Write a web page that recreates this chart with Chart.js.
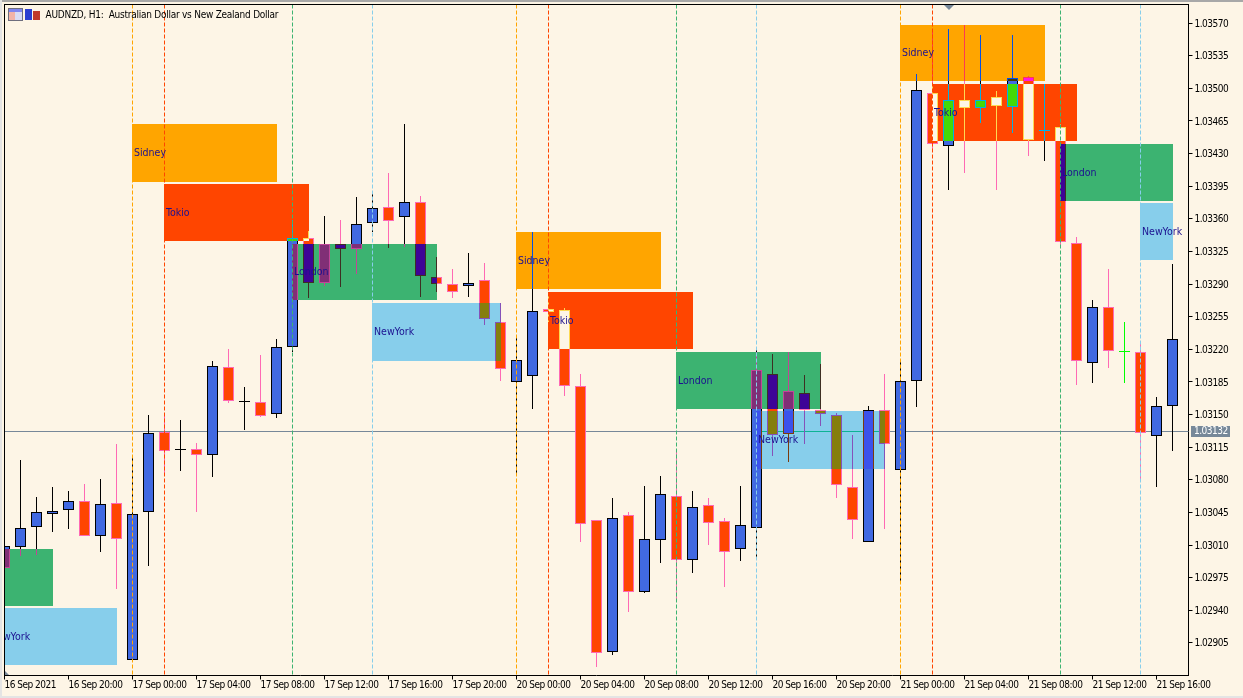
<!DOCTYPE html>
<html>
<head>
<meta charset="UTF-8">
<title>AUDNZD, H1</title>
<script src="https://cdn.jsdelivr.net/npm/chart.js"></script>
<style>
    html, body { margin: 0; padding: 0; background: #FDF5E6; overflow: hidden; }
    canvas { display: block; }
</style>
</head>
<body>
<canvas id="chart" width="1243" height="698"></canvas>
<script>
// candles, one entry per H1 bar
const opens = [
    1.02985,1.03008,1.03029,1.03043,1.03048,1.03057,1.03020,1.03055,1.02887,1.03045,
    1.03131,1.03112,1.03113,1.03107,1.03201,1.03164,1.03164,1.03151,1.03223,1.03339,
    1.03291,1.03333,1.03328,1.03356,1.03373,1.03362,1.03378,1.03298,1.03290,1.03288,
    1.03294,1.03249,1.03185,1.03191,1.03263,1.03262,1.03181,1.03037,1.02895,1.03042,
    1.02960,1.03015,1.03063,1.02994,1.03053,1.03036,1.03006,1.03028,1.03193,1.03129,
    1.03173,1.03155,1.03149,1.03072,1.03013,1.03155,1.03091,1.03186,1.03495,1.03438,
    1.03487,1.03479,1.03491,1.03480,1.03512,1.03454,1.03459,1.03334,1.03205,1.03265,
    1.03217,1.03217,1.03127,1.03159];
const highs = [
    1.03010,1.03101,1.03062,1.03072,1.03068,1.03076,1.03081,1.03118,1.03103,1.03150,
    1.03149,1.03144,1.03119,1.03207,1.03220,1.03180,1.03214,1.03231,1.03359,1.03347,
    1.03363,1.03359,1.03383,1.03389,1.03409,1.03462,1.03384,1.03319,1.03306,1.03323,
    1.03313,1.03270,1.03233,1.03346,1.03278,1.03264,1.03194,1.03037,1.03060,1.03045,
    1.03073,1.03084,1.03110,1.03068,1.03060,1.03039,1.03073,1.03220,1.03215,1.03217,
    1.03192,1.03204,1.03152,1.03128,1.03159,1.03193,1.03206,1.03515,1.03564,1.03564,
    1.03568,1.03557,1.03497,1.03557,1.03513,1.03505,1.03462,1.03341,1.03273,1.03306,
    1.03249,1.03226,1.03169,1.03312];
const lows = [
    1.02984,1.02998,1.02999,1.03024,1.03027,1.03020,1.03002,1.02963,1.02887,1.02987,
    1.03087,1.03089,1.03045,1.03083,1.03162,1.03133,1.03147,1.03146,1.03217,1.03275,
    1.03288,1.03287,1.03301,1.03346,1.03329,1.03330,1.03276,1.03282,1.03275,1.03276,
    1.03246,1.03186,1.03084,1.03156,1.03249,1.03170,1.03013,1.02879,1.02892,1.02938,
    1.02958,1.02991,1.02949,1.02980,1.03010,1.02965,1.02993,1.02997,1.03106,1.03099,
    1.03118,1.03138,1.03060,1.03017,1.03013,1.03027,1.02969,1.03158,1.03432,1.03391,
    1.03409,1.03463,1.03391,1.03452,1.03427,1.03422,1.03329,1.03182,1.03184,1.03200,
    1.03184,1.03081,1.03072,1.03111];
const closes = [
    1.03009,1.03028,1.03045,1.03047,1.03057,1.03020,1.03054,1.03017,1.03043,1.03130,
    1.03111,1.03113,1.03107,1.03202,1.03165,1.03165,1.03148,1.03223,1.03339,1.03291,
    1.03333,1.03328,1.03355,1.03372,1.03358,1.03378,1.03299,1.03290,1.03282,1.03291,
    1.03253,1.03199,1.03209,1.03261,1.03260,1.03181,1.03033,1.02894,1.03039,1.02960,
    1.03016,1.03065,1.02994,1.03051,1.03034,1.03003,1.03032,1.03198,1.03128,1.03175,
    1.03155,1.03151,1.03074,1.03037,1.03155,1.03118,1.03186,1.03498,1.03440,1.03487,
    1.03479,1.03488,1.03481,1.03511,1.03445,1.03455,1.03335,1.03207,1.03265,1.03218,
    1.03217,1.03130,1.03159,1.03231];

// axis labels, one every 4 bars
const xTickLabels = ['16 Sep 2021','16 Sep 20:00','17 Sep 00:00','17 Sep 04:00','17 Sep 08:00','17 Sep 12:00','17 Sep 16:00','17 Sep 20:00',
    '20 Sep 00:00','20 Sep 04:00','20 Sep 08:00','20 Sep 12:00','20 Sep 16:00','20 Sep 20:00',
    '21 Sep 00:00','21 Sep 04:00','21 Sep 08:00','21 Sep 12:00','21 Sep 16:00'];
const yTickValues = [1.02905,1.02940,1.02975,1.03010,1.03045,1.03080,1.03115,1.03150,1.03185,1.03220,
    1.03255,1.03290,1.03325,1.03360,1.03395,1.03430,1.03465,1.03500,1.03535,1.03570];
const currentPrice = 1.03132;

// trading sessions
const sessionNames  = ['London','NewYork','Sidney','Tokio','London','NewYork','Sidney','Tokio','London','NewYork','Sidney','Tokio','London','NewYork'];
const sessionStart  = [-6,-1,8,10,18,23,32,34,42,47,56,58,66,71];
const sessionEnd    = [3,7,17,19,27,31,41,43,51,55,65,67,73,73];
const sessionTop    = [1.03006,1.02942,1.03462,1.03397,1.03333,1.03270,1.03346,1.03281,1.03217,1.03154,1.03568,1.03505,1.03440,1.03377];
const sessionBottom = [1.02945,1.02881,1.03400,1.03336,1.03273,1.03208,1.03285,1.03220,1.03156,1.03092,1.03508,1.03443,1.03379,1.03316];
// bars where a vertical session line is drawn
const lineBars  = [8,10,18,23,32,34,42,47,56,58,66,71];
const lineNames = ['Sidney','Tokio','London','NewYork','Sidney','Tokio','London','NewYork','Sidney','Tokio','London','NewYork'];

const sessionColors = {Sidney: '#FFA500', Tokio: '#FF4500', London: '#3CB371', NewYork: '#87CEEB'};
const BG = '#FDF5E6', BULL = '#4169E1', BEAR = '#FF4500', BULL_LINE = '#000000', BEAR_LINE = '#FF69B4', DOJI = '#00FF00', PRICE_LINE = '#778899';
const TEXT_FONT = '"DejaVu Sans Condensed", "Liberation Sans"';

const categories = [];
for (let i = 0; i <= opens.length; i++) categories.push(i % 4 === 0 && xTickLabels[i / 4] ? xTickLabels[i / 4] : '');

const fillColors = opens.map((o, i) => closes[i] > o ? BULL : closes[i] < o ? BEAR : DOJI);
const lineColors = opens.map((o, i) => closes[i] > o ? BULL_LINE : closes[i] < o ? BEAR_LINE : DOJI);

// terminal paints objects by xor, so overlaps get other colors
function xorColor(a, b) {
    const n = parseInt(a.slice(1), 16) ^ parseInt(b.slice(1), 16) ^ parseInt(BG.slice(1), 16);
    return '#' + n.toString(16).padStart(6, '0');
}

const sessionPlugin = {
    id: 'sessions',
    beforeDraw(chart) {
        // axis font runs narrower than the installed one
        chart.ctx.letterSpacing = '-0.5px';
    },
    afterDatasetsUpdate(chart) {
        // keep the bars on whole pixels
        chart.data.datasets.forEach((ds, d) => {
            chart.getDatasetMeta(d).data.forEach(el => {
                el.y = Math.round(el.y);
                el.base = Math.round(el.base);
                if (el.y === el.base) el.base = el.y + 1;
            });
        });
    },
    beforeDatasetsDraw(chart) {
        const {ctx, chartArea: a, scales: {x, y}} = chart;
        ctx.save();
        ctx.fillStyle = PRICE_LINE;
        ctx.fillRect(a.left, Math.round(y.getPixelForValue(currentPrice)), a.width, 1);
        ctx.beginPath();
        ctx.rect(a.left, a.top, a.width, a.height);
        ctx.clip();
        sessionNames.forEach((name, s) => {
            ctx.fillStyle = sessionColors[name];
            const b = sessionBox(chart, s);
            ctx.fillRect(b.l, b.t, b.r - b.l, b.b - b.t);
        });
        ctx.restore();
    },
    afterDatasetsDraw(chart) {
        const {ctx, chartArea: a, scales: {x, y}} = chart;
        const wicks = chart.getDatasetMeta(0).data, bodies = chart.getDatasetMeta(1).data;
        ctx.save();
        ctx.beginPath();
        ctx.rect(a.left, a.top, a.width, a.height);
        ctx.clip();
        // parts of the candles and price line that lie inside a session box
        sessionNames.forEach((name, s) => {
            const col = sessionColors[name], b = sessionBox(chart, s);
            ctx.save();
            ctx.beginPath();
            ctx.rect(b.l, b.t, b.r - b.l, b.b - b.t);
            ctx.clip();
            ctx.fillStyle = xorColor(PRICE_LINE, col);
            ctx.fillRect(a.left, Math.round(y.getPixelForValue(currentPrice)), a.width, 1);
            opens.forEach((o, i) => {
                const w = wicks[i], c = bodies[i];
                if (c.x + 6 < b.l || c.x - 6 > b.r) return;
                ctx.fillStyle = xorColor(lineColors[i], col);
                ctx.fillRect(w.x - 0.5, Math.min(w.y, w.base), 1, Math.abs(w.base - w.y));
                const top = Math.min(c.y, c.base), h = Math.abs(c.base - c.y);
                ctx.fillRect(c.x - 5.5, top, 11, h);
                if (h > 2) {
                    ctx.fillStyle = xorColor(fillColors[i], col);
                    ctx.fillRect(c.x - 4.5, top + 1, 9, h - 2);
                }
            });
            ctx.restore();
        });
        // session start lines
        ctx.lineWidth = 1;
        ctx.setLineDash([4, 2]);
        lineBars.forEach((bar, i) => {
            const px = x.getPixelForValue(bar);
            ctx.strokeStyle = sessionColors[lineNames[i]];
            ctx.beginPath();
            ctx.moveTo(px, a.top);
            ctx.lineTo(px, a.bottom);
            ctx.stroke();
        });
        ctx.setLineDash([]);
        // session names
        ctx.letterSpacing = '0px';
        ctx.font = '10.5px ' + TEXT_FONT;
        ctx.textBaseline = 'middle';
        ctx.textAlign = 'left';
        ctx.fillStyle = '#1C1190';
        sessionNames.forEach((name, s) => {
            const b = sessionBox(chart, s);
            ctx.fillText(name, b.l + 2, (b.t + b.b) / 2 + 0.5);
        });
        ctx.restore();

        // frame and chart header
        ctx.save();
        ctx.fillStyle = '#000000';
        ctx.fillRect(4, 4, 1185, 1);
        ctx.fillRect(4, 4, 1, 672);
        ctx.fillStyle = '#A8A8A8';
        ctx.fillRect(0, 0, 1243, 2);
        ctx.fillStyle = '#E4E4E4';
        ctx.fillRect(0, 696, 1243, 2);
        ctx.fillRect(0, 0, 2, 698);
        // table icon
        ctx.fillStyle = '#6E6E7E';
        ctx.fillRect(8, 8, 15, 13);
        ctx.fillStyle = '#7F86F0';
        ctx.fillRect(9, 9, 13, 3);
        ctx.fillStyle = '#F2B3A8';
        ctx.fillRect(9, 12, 6, 8);
        ctx.fillStyle = '#D9DCF5';
        ctx.fillRect(15, 12, 7, 8);
        // candles icon
        ctx.fillStyle = '#2B3FD0';
        ctx.fillRect(25, 9, 7, 11);
        ctx.fillStyle = '#C0392B';
        ctx.fillRect(33, 11, 7, 9);
        // scroll marks
        ctx.fillStyle = '#778899';
        ctx.beginPath();
        ctx.moveTo(944, 5); ctx.lineTo(954, 5); ctx.lineTo(949, 10);
        ctx.fill();
        ctx.beginPath();
        ctx.moveTo(5, 671); ctx.lineTo(5, 675); ctx.lineTo(9, 675);
        ctx.fill();
        // title
        ctx.letterSpacing = '-0.25px';
        ctx.fillStyle = '#000000';
        ctx.font = '10px ' + TEXT_FONT;
        ctx.textBaseline = 'middle';
        ctx.textAlign = 'left';
        ctx.fillText('AUDNZD, H1:  Australian Dollar vs New Zealand Dollar', 45.5, 15);
        // current price tag
        const py = Math.round(y.getPixelForValue(currentPrice));
        ctx.letterSpacing = '-0.5px';
        ctx.fillStyle = PRICE_LINE;
        ctx.fillRect(1191, py - 5, 39, 11);
        ctx.fillStyle = '#FFFFFF';
        ctx.font = '10px ' + TEXT_FONT;
        ctx.fillText(currentPrice.toFixed(5), 1194, py + 0.5);
        ctx.restore();
    }
};

function sessionBox(chart, s) {
    const {x, y} = chart.scales;
    return {
        l: x.getPixelForValue(sessionStart[s]) - 0.5,
        r: x.getPixelForValue(sessionEnd[s]) + 0.5,
        t: Math.round(y.getPixelForValue(sessionTop[s])),
        b: Math.round(y.getPixelForValue(sessionBottom[s]))
    };
}

new Chart(document.getElementById('chart'), {
    type: 'bar',
    data: {
        labels: categories,
        datasets: [
            {
                label: 'wick',
                data: lows.map((l, i) => [l, highs[i]]),
                backgroundColor: lineColors,
                borderWidth: 0,
                inflateAmount: 0,
                barThickness: 1,
                grouped: false,
                clip: 0,
                order: 2
            },
            {
                label: 'body',
                data: opens.map((o, i) => [o, closes[i]]),
                backgroundColor: fillColors,
                borderColor: lineColors,
                borderWidth: 1,
                borderSkipped: false,
                inflateAmount: 0,
                barThickness: 11,
                minBarLength: 1,
                grouped: false,
                clip: 0,
                order: 1
            }
        ]
    },
    options: {
        responsive: false,
        animation: false,
        events: [],
        layout: {padding: {left: 4.5, top: 4.5, right: 0, bottom: 0}},
        plugins: {legend: {display: false}, tooltip: {enabled: false}},
        scales: {
            x: {
                type: 'category',
                offset: false,
                afterFit(s) { s.height = 22.5; s.paddingLeft = 0; s.paddingRight = 0; },
                afterBuildTicks(s) { s.ticks = xTickLabels.map((t, i) => ({value: i * 4})); },
                grid: {drawOnChartArea: false, tickLength: 4, tickColor: '#000000', offset: false},
                border: {color: '#000000'},
                ticks: {
                    autoSkip: false,
                    maxRotation: 0,
                    align: 'start',
                    padding: 0,
                    color: '#000000',
                    font: {family: TEXT_FONT, size: 10}
                }
            },
            y: {
                position: 'right',
                min: 1.0287,
                max: 1.0359,
                afterFit(s) { s.width = 54.5; s.paddingTop = 0; s.paddingBottom = 0; },
                afterBuildTicks(s) { s.ticks = yTickValues.map(v => ({value: v})); },
                grid: {drawOnChartArea: false, tickLength: 4, tickColor: '#000000'},
                border: {color: '#000000'},
                ticks: {
                    padding: 2,
                    labelOffset: 1,
                    color: '#000000',
                    font: {family: TEXT_FONT, size: 10},
                    callback: v => v.toFixed(5)
                }
            }
        }
    },
    plugins: [sessionPlugin]
});
</script>
</body>
</html>
